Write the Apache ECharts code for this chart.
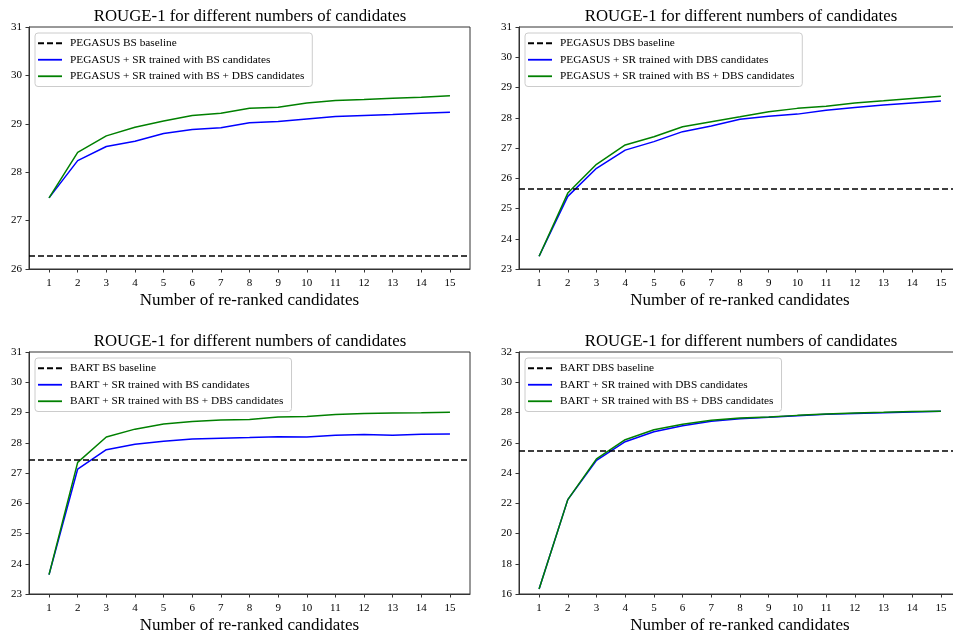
<!DOCTYPE html>
<html><head><meta charset="utf-8">
<script src="https://cdn.jsdelivr.net/npm/echarts@6/dist/echarts.min.js"></script>
<style>html,body{margin:0;padding:0;background:#fff}#c{width:953px;height:634px}</style>
</head><body><div id="c"></div>
<script>
const candidates = [1,2,3,4,5,6,7,8,9,10,11,12,13,14,15];
const xTicks = [1,2,3,4,5,6,7,8,9,10,11,12,13,14,15];

// Panel 1: PEGASUS BS
const p1Baseline = 26.28;
const p1Blue  = [27.47,28.24,28.53,28.64,28.80,28.88,28.92,29.02,29.05,29.10,29.15,29.17,29.19,29.22,29.24];
const p1Green = [27.47,28.41,28.75,28.93,29.06,29.17,29.22,29.32,29.34,29.43,29.48,29.50,29.53,29.55,29.58];

// Panel 2: PEGASUS DBS
const p2Baseline = 25.65;
const p2Blue  = [23.42,25.40,26.33,26.93,27.21,27.54,27.73,27.95,28.05,28.12,28.25,28.34,28.42,28.49,28.55];
const p2Green = [23.42,25.51,26.46,27.10,27.37,27.70,27.87,28.03,28.20,28.31,28.38,28.49,28.56,28.64,28.71];

// Panel 3: BART BS
const p3Baseline = 27.44;
const p3Blue  = [23.64,27.13,27.77,27.95,28.05,28.12,28.15,28.17,28.20,28.19,28.25,28.27,28.25,28.28,28.29];
const p3Green = [23.64,27.35,28.19,28.45,28.62,28.70,28.75,28.77,28.85,28.87,28.93,28.97,28.98,28.99,29.01];

// Panel 4: BART DBS
const p4Baseline = 25.45;
const p4Blue  = [16.33,22.24,24.84,26.07,26.73,27.13,27.42,27.59,27.68,27.79,27.88,27.94,27.99,28.03,28.08];
const p4Green = [16.33,22.24,24.93,26.20,26.86,27.22,27.48,27.63,27.70,27.81,27.90,27.97,28.01,28.06,28.08];

const titleText = 'ROUGE-1 for different numbers of candidates';
const xName = 'Number of re-ranked candidates';

const panels = [
  {base: p1Baseline, blue: p1Blue, green: p1Green, ymin: 26, ymax: 31, step: 1,
   names: ['PEGASUS BS baseline','PEGASUS + SR trained with BS candidates','PEGASUS + SR trained with BS + DBS candidates'],
   grid: {left: 29, top: 27, width: 441, height: 242}, cx: 245},
  {base: p2Baseline, blue: p2Blue, green: p2Green, ymin: 23, ymax: 31, step: 1,
   names: ['PEGASUS DBS baseline','PEGASUS + SR trained with DBS candidates','PEGASUS + SR trained with BS + DBS candidates'],
   grid: {left: 519, top: 27, width: 442, height: 242}, cx: 736},
  {base: p3Baseline, blue: p3Blue, green: p3Green, ymin: 23, ymax: 31, step: 1,
   names: ['BART BS baseline','BART + SR trained with BS candidates','BART + SR trained with BS + DBS candidates'],
   grid: {left: 29, top: 352, width: 441, height: 242}, cx: 245},
  {base: p4Baseline, blue: p4Blue, green: p4Green, ymin: 16, ymax: 32, step: 2,
   names: ['BART DBS baseline','BART + SR trained with DBS candidates','BART + SR trained with BS + DBS candidates'],
   grid: {left: 519, top: 352, width: 442, height: 242}, cx: 736}
];

const font = 'Liberation Serif';
const axisCol = '#333';
const dashIcon = 'path://M0,0h6v2h-6z M9,0h6v2h-6z M18,0h6v2h-6z';
const option = {animation: false, backgroundColor: '#fff', grid: [], xAxis: [], yAxis: [], series: [], title: [], legend: []};

panels.forEach((p, i) => {
  option.grid.push(Object.assign({show: true, borderColor: axisCol, borderWidth: 1, containLabel: false, outerBoundsMode: 'none'}, p.grid));
  option.title.push({
    text: titleText, left: p.cx, top: p.grid.top - 24, textAlign: 'center',
    textStyle: {fontFamily: font, fontSize: 16.8, fontWeight: 'normal', color: '#000'}
  });
  option.xAxis.push({
    type: 'value', gridIndex: i, min: 0.3, max: 15.7,
    name: xName, nameLocation: 'middle', nameGap: 23,
    nameTextStyle: {fontFamily: font, fontSize: 17, color: '#000'},
    axisLine: {show: true, onZero: false, lineStyle: {color: axisCol, width: 1}},
    axisTick: {show: true, length: 3.5, customValues: xTicks, lineStyle: {color: axisCol}},
    axisLabel: {customValues: xTicks, fontFamily: font, fontSize: 11, color: '#000', margin: 9},
    splitLine: {show: false}
  });
  option.yAxis.push({
    type: 'value', gridIndex: i, min: p.ymin, max: p.ymax, interval: p.step,
    axisLine: {show: true, lineStyle: {color: axisCol, width: 1}},
    axisTick: {show: true, length: 3.5, lineStyle: {color: axisCol}},
    axisLabel: {fontFamily: font, fontSize: 11, color: '#000', margin: 7},
    splitLine: {show: false}
  });
  option.series.push({
    name: p.names[0], type: 'line', xAxisIndex: i, yAxisIndex: i, data: [], symbol: 'none',
    color: '#000', lineStyle: {color: '#000', width: 1.5, type: [6, 3]},
    markLine: {silent: true, symbol: 'none', label: {show: false},
      lineStyle: {color: '#000', width: 1.5, type: [6, 3]},
      data: [{yAxis: p.base}]}
  });
  option.series.push({
    name: p.names[1], type: 'line', xAxisIndex: i, yAxisIndex: i, symbol: 'none', color: '#0000ff',
    lineStyle: {color: '#0000ff', width: 1.5}, z: 3,
    data: candidates.map((c, k) => [c, p.blue[k]])
  });
  option.series.push({
    name: p.names[2], type: 'line', xAxisIndex: i, yAxisIndex: i, symbol: 'none', color: '#008000',
    lineStyle: {color: '#008000', width: 1.5}, z: 4,
    data: candidates.map((c, k) => [c, p.green[k]])
  });
  option.legend.push({
    orient: 'vertical', left: p.grid.left + 6, top: p.grid.top + 6,
    data: [{name: p.names[0], icon: dashIcon}, {name: p.names[1], icon: 'rect'}, {name: p.names[2], icon: 'rect'}],
    itemWidth: 24, itemHeight: 1.8, itemGap: 4, symbolKeepAspect: false,
    padding: [4, 8, 4, 3], borderColor: '#ccc', borderWidth: 1, borderRadius: 3,
    backgroundColor: 'rgba(255,255,255,0.85)', selectedMode: false,
    textStyle: {fontFamily: font, fontSize: 11.3, color: '#000', lineHeight: 12.5, padding: [0, 0, 0, 3]}
  });
});

const chart = echarts.init(document.getElementById('c'));
chart.setOption(option);
</script></body></html>
